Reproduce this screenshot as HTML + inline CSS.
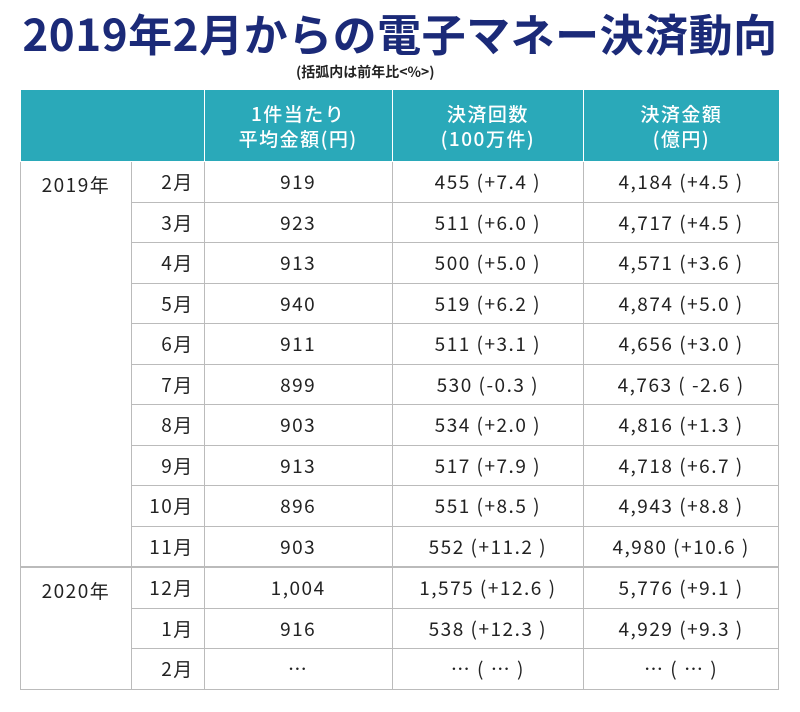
<!DOCTYPE html>
<html><head><meta charset="utf-8"><style>
body{margin:0;width:800px;height:712px;background:#fff;font-family:"Liberation Sans","Noto Sans CJK JP",sans-serif;position:relative;overflow:hidden}
h1{position:absolute;left:0;width:800px;top:2px;margin:0;text-align:center;font-family:"Noto Sans CJK JP",sans-serif;font-weight:700;font-size:44px;color:#1b2a78;letter-spacing:0.5px;line-height:60px}
.note{position:absolute;left:296px;top:62px;font-family:"Noto Sans CJK JP",sans-serif;font-size:14px;font-weight:700;color:#222}
table{position:absolute;left:20px;top:90px;border-collapse:collapse;width:759px;font-family:"Noto Sans CJK JP",sans-serif;color:#222;font-size:19px;letter-spacing:1.5px}
td,th{border:1.5px solid #bbb;text-align:center;padding:0;height:39.5px}
th{background:#2aa9b9;color:#fff;font-weight:500;font-size:19px;line-height:25px;height:71px;border-color:#fff;border-top:none}
th:first-child{border-left:none}th:last-child{border-right:none}
td.y{vertical-align:top;padding-top:9px;border-bottom:2.5px solid #bbb}
td.m{text-align:right;padding-right:10px}
tr.last td{border-bottom:2.5px solid #bbb}
</style></head><body>
<h1>2019年2月からの電子マネー決済動向</h1>
<div class="note">(括弧内は前年比&lt;%&gt;)</div>
<table>
<colgroup><col style="width:111px"><col style="width:73px"><col style="width:188px"><col style="width:192px"><col style="width:195px"></colgroup>
<tr><th colspan="2"></th><th>1件当たり<br>平均金額(円)</th><th>決済回数<br>(100万件)</th><th>決済金額<br>(億円)</th></tr>
<tbody id="tb"></tbody>
</table>
<script>
const months=["2月","3月","4月","5月","6月","7月","8月","9月","10月","11月","12月","1月","2月"];
const avg=["919","923","913","940","911","899","903","913","896","903","1,004","916","…"];
const cnt=["455 (+7.4 )","511 (+6.0 )","500 (+5.0 )","519 (+6.2 )","511 (+3.1 )","530 (-0.3 )","534 (+2.0 )","517 (+7.9 )","551 (+8.5 )","552 (+11.2 )","1,575 (+12.6 )","538 (+12.3 )","… ( … )"];
const amt=["4,184 (+4.5 )","4,717 (+4.5 )","4,571 (+3.6 )","4,874 (+5.0 )","4,656 (+3.0 )","4,763 ( -2.6 )","4,816 (+1.3 )","4,718 (+6.7 )","4,943 (+8.8 )","4,980 (+10.6 )","5,776 (+9.1 )","4,929 (+9.3 )","… ( … )"];
const tb=document.getElementById('tb');
months.forEach((m,i)=>{
 const tr=document.createElement('tr');
 
 
 if(i===9)tr.className='last';
 let h='';
 if(i===0)h+='<td class="y" rowspan="10">2019年</td>';
 if(i===10)h+='<td class="y" rowspan="3" style="border-bottom:1.5px solid #bbb">2020年</td>';
 h+='<td class="m">'+m+'</td><td>'+avg[i]+'</td><td>'+cnt[i]+'</td><td>'+amt[i]+'</td>';
 tr.innerHTML=h;tb.appendChild(tr);
});
</script>
</body></html>
